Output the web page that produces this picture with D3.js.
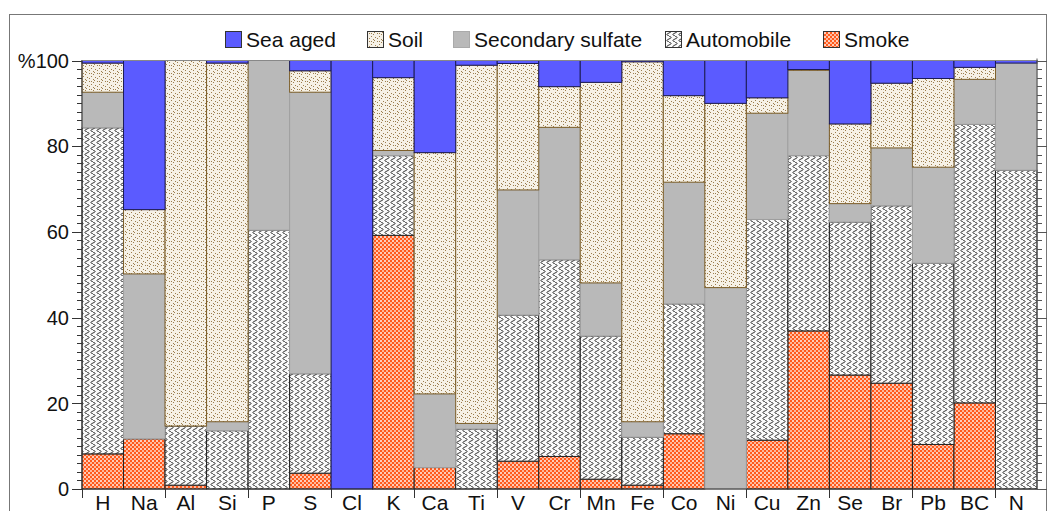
<!DOCTYPE html>
<html>
<head>
<meta charset="utf-8">
<script src="https://cdn.jsdelivr.net/npm/d3@7"></script>
<style>
  body { margin: 0; background: #fff; }
  svg { display: block; font-family: "Liberation Sans", Arial, sans-serif; }
</style>
</head>
<body>
<div id="chart"></div>
<script>
// categories (elements) and source contributions, in %
var elements = ["H","Na","Al","Si","P","S","Cl","K","Ca","Ti","V","Cr","Mn","Fe","Co","Ni","Cu","Zn","Se","Br","Pb","BC","N"];

var smoke      = [8.2, 11.7, 0.9, 0,    0,    3.7,  0,   59.2, 5.0,  0,    6.5,  7.6,  2.3,  0.9,  12.9, 0,    11.4, 36.9, 26.6, 24.7, 10.4, 20.1, 0];
var automobile = [76.1, 0,   13.8, 13.6, 60.4, 23.2, 0,   18.6, 0,    14.0, 34.1, 45.9, 33.4, 11.2, 30.3, 0,    51.5, 40.9, 35.7, 41.4, 42.3, 65.0, 74.4];
var sulfate    = [8.3, 38.5, 0,    2.1,  39.6, 65.7, 0,   1.2,  17.2, 1.3,  29.2, 30.9, 12.4, 3.6,  28.4, 47.0, 24.8, 19.9, 4.3,  13.5, 22.4, 10.5, 25.0];
var soil       = [6.8, 15.0, 85.3, 83.7, 0,    5.0,  0,   17.0, 56.3, 83.6, 29.5, 9.5,  46.8, 84.0, 20.2, 43.0, 3.6,  0.2,  18.6, 15.1, 20.7, 2.8,  0];
var seaAged    = [0.6, 34.8, 0,    0.6,  0,    2.4,  100, 4.0,  21.5, 1.1,  0.7,  6.1,  5.1,  0.3,  8.2,  10.0, 8.7,  2.1,  14.8, 5.3,  4.2,  1.6,  0.6];

var yTicks = [0, 20, 40, 60, 80, 100];

// stacked bottom -> top
var series = [
  { key: "Smoke",              values: smoke,      fill: "url(#pSmoke)", stroke: "#222" },
  { key: "Automobile",         values: automobile, fill: "url(#pAuto)",  stroke: "#222" },
  { key: "Secondary sulfate",  values: sulfate,    fill: "#b9b9b9",      stroke: "#a0a0a0" },
  { key: "Soil",               values: soil,       fill: "url(#pSoil)",  stroke: "#7d5f2a" },
  { key: "Sea aged",           values: seaAged,    fill: "#5b5bff",      stroke: "#1c1c55" }
];

var W = 1054, H = 511;
var mLeft = 82, mRight = 1037, mTop = 60.5, mBottom = 489;

var svg = d3.select("#chart").append("svg")
  .attr("width", W).attr("height", H);

var defs = svg.append("defs");

// smoke: orange with white dots
var ps = defs.append("pattern").attr("id", "pSmoke")
  .attr("patternUnits", "userSpaceOnUse").attr("width", 4).attr("height", 4);
ps.append("rect").attr("width", 4).attr("height", 4).attr("fill", "#ff5a1c");
ps.append("circle").attr("cx", 1).attr("cy", 1).attr("r", 0.95).attr("fill", "#fff");
ps.append("circle").attr("cx", 3).attr("cy", 3).attr("r", 0.95).attr("fill", "#ffe0d0");

// automobile: vertical wavy lines
var pa = defs.append("pattern").attr("id", "pAuto")
  .attr("patternUnits", "userSpaceOnUse").attr("width", 6).attr("height", 6);
pa.append("rect").attr("width", 6).attr("height", 6).attr("fill", "#fafafa");
pa.append("path")
  .attr("d", "M3,0 C6,1.5 6,1.5 3,3 C0,4.5 0,4.5 3,6")
  .attr("fill", "none").attr("stroke", "#333").attr("stroke-width", 1);

// soil: beige with small brown specks
var pso = defs.append("pattern").attr("id", "pSoil")
  .attr("patternUnits", "userSpaceOnUse").attr("width", 8).attr("height", 8);
pso.append("rect").attr("width", 8).attr("height", 8).attr("fill", "#f6f1e6");
[[1,1],[5,2],[3,4],[7,5],[1,6],[5,7],[6,0],[3,1]].forEach(function(p){
  pso.append("rect").attr("x", p[0]).attr("y", p[1]).attr("width", 1).attr("height", 1)
    .attr("fill", "#9c7e4e");
});

var x = d3.scaleBand().domain(elements).range([mLeft, mRight]).padding(0);
var y = d3.scaleLinear().domain([0, 100]).range([mBottom, mTop]);

// outer frame
svg.append("rect").attr("x", 9.5).attr("y", 14.5).attr("width", 1037).attr("height", 520)
  .attr("fill", "none").attr("stroke", "#777").attr("stroke-width", 1);

// stacked data
var rows = elements.map(function(e, i){
  var r = { el: e };
  series.forEach(function(s){ r[s.key] = s.values[i]; });
  return r;
});
var stack = d3.stack().keys(series.map(function(s){ return s.key; }));
var layers = stack(rows);

var g = svg.append("g");
layers.forEach(function(layer, li){
  var s = series[li];
  g.selectAll(null).data(layer.filter(function(d){ return d[1] - d[0] > 0; }))
    .enter().append("rect")
    .attr("x", function(d){ return x(d.data.el); })
    .attr("width", x.bandwidth())
    .attr("y", function(d){ return y(d[1]); })
    .attr("height", function(d){ return y(d[0]) - y(d[1]); })
    .attr("fill", s.fill)
    .attr("stroke", s.stroke)
    .attr("stroke-width", 1);
});

// top line of plot
svg.append("line").attr("x1", mLeft).attr("x2", mRight).attr("y1", mTop).attr("y2", mTop)
  .attr("stroke", "#888").attr("stroke-width", 1);

// left axis
var yMinor = d3.range(0, 101, 2);
var la = svg.append("g").attr("transform", "translate(" + mLeft + ",0)");
la.append("line").attr("y1", mTop).attr("y2", mBottom).attr("stroke", "#333");
la.selectAll(null).data(yMinor).enter().append("line")
  .attr("x1", function(d){ return d % 20 === 0 ? -10 : -5; }).attr("x2", 0)
  .attr("y1", function(d){ return Math.round(y(d)) + 0.5; })
  .attr("y2", function(d){ return Math.round(y(d)) + 0.5; })
  .attr("stroke", "#333");
la.selectAll(null).data(yTicks).enter().append("text")
  .attr("x", -13).attr("y", function(d){ return y(d); }).attr("dy", "0.36em")
  .attr("text-anchor", "end").attr("font-size", 20).attr("fill", "#111")
  .text(function(d){ return d === 100 ? "%100" : d; });

// right axis
var ra = svg.append("g").attr("transform", "translate(" + mRight + ",0)");
ra.append("line").attr("y1", mTop - 2).attr("y2", mBottom).attr("stroke", "#555");
ra.selectAll(null).data(yMinor).enter().append("line")
  .attr("x1", 0).attr("x2", function(d){ return d % 20 === 0 ? 10 : 5; })
  .attr("y1", function(d){ return Math.round(y(d)) + 0.5; })
  .attr("y2", function(d){ return Math.round(y(d)) + 0.5; })
  .attr("stroke", "#555");

// bottom axis
var ba = svg.append("g").attr("transform", "translate(0," + mBottom + ")");
ba.append("line").attr("x1", mLeft).attr("x2", mRight).attr("stroke", "#333");
var xTickPos = elements.filter(function(e, i){ return i % 2 === 0; })
  .map(function(e){ return x(e); });
ba.selectAll(null).data(xTickPos).enter().append("line")
  .attr("x1", function(d){ return Math.round(d) + 0.5; })
  .attr("x2", function(d){ return Math.round(d) + 0.5; })
  .attr("y1", 0).attr("y2", 9).attr("stroke", "#333");
ba.selectAll(null).data(elements).enter().append("text")
  .attr("x", function(d){ return x(d) + x.bandwidth() / 2; })
  .attr("y", 21).attr("text-anchor", "middle")
  .attr("font-size", 21).attr("fill", "#111")
  .text(function(d){ return d; });

// legend
var legendX = { "Sea aged": 225, "Soil": 367, "Secondary sulfate": 453, "Automobile": 665, "Smoke": 823 };
var lg = svg.append("g");
series.slice().reverse().forEach(function(s){
  var lx = legendX[s.key];
  lg.append("rect").attr("x", lx + 0.5).attr("y", 31.5).attr("width", 16).attr("height", 16)
    .attr("fill", s.fill).attr("stroke", s.stroke === "#a0a0a0" ? "#aaa" : "#333");
  lg.append("text").attr("x", lx + 21).attr("y", 39.5).attr("dy", "0.36em")
    .attr("font-size", 21).attr("fill", "#111").text(s.key);
});
</script>
</body>
</html>
